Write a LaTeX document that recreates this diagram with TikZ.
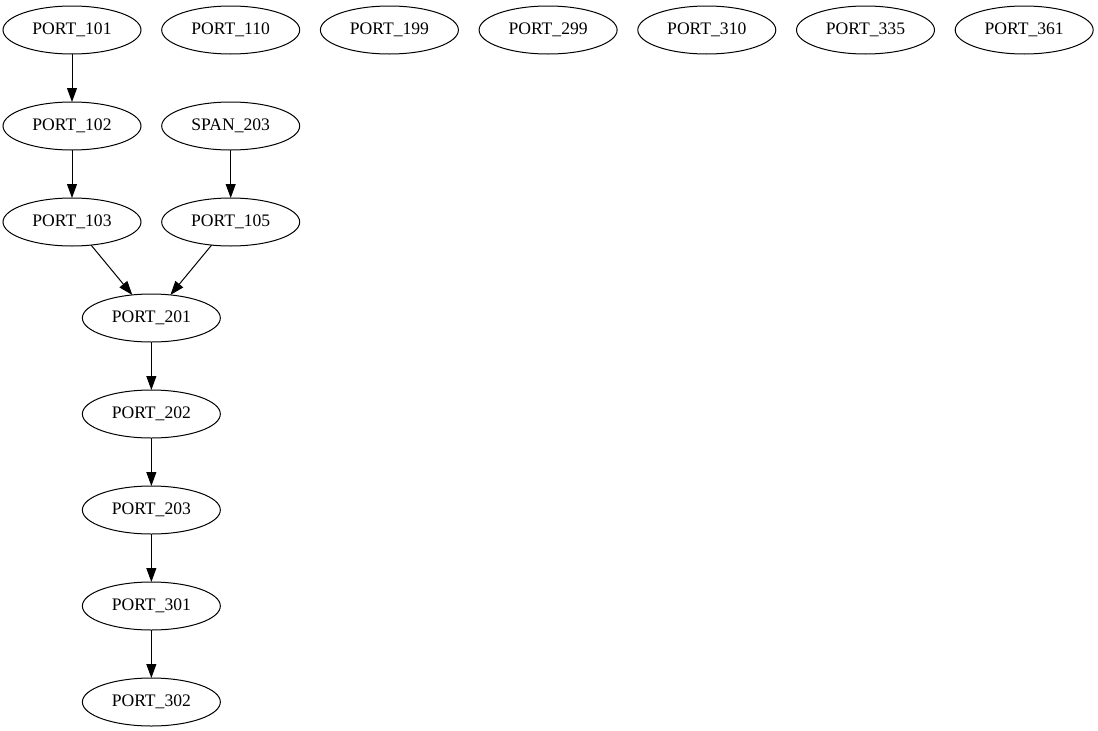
\documentclass[tikz,border=0pt]{standalone}
\usepackage{fontspec}
\setmainfont{Liberation Serif}
\usepackage{tikz}
\usetikzlibrary{shapes,arrows.meta,positioning,calc}

\begin{document}
\begin{tikzpicture}[
    x=1pt, y=1pt,
    node distance=48pt and 20.7pt,
    port/.style={draw, ellipse, line width=1pt, minimum width=138pt, minimum height=48pt, inner sep=0pt, outer sep=0pt, font=\fontsize{17.6}{20}\selectfont},
    arrow/.style={-{Triangle[length=14pt,width=10pt]}, line width=1pt}
]
    \useasboundingbox (0,0) rectangle (1098,-731);

    % Top row
    \node[port] (p101) at (72,-30) {PORT\_101};
    \node[port, right=of p101] (p110) {PORT\_110};
    \node[port, right=of p110] (p199) {PORT\_199};
    \node[port, right=of p199] (p299) {PORT\_299};
    \node[port, right=of p299] (p310) {PORT\_310};
    \node[port, right=of p310] (p335) {PORT\_335};
    \node[port, right=of p335] (p361) {PORT\_361};

    % Left branch
    \node[port, below=of p101] (p102) {PORT\_102};
    \node[port, below=of p102] (p103) {PORT\_103};

    % Right branch
    \node[port, below=of p110] (s203) {SPAN\_203};
    \node[port, below=of s203] (p105) {PORT\_105};

    % Chain
    \coordinate (mid) at ($(p103.south)!0.5!(p105.south)$);
    \node[port, below=of mid] (p201) {PORT\_201};
    \node[port, below=of p201] (p202) {PORT\_202};
    \node[port, below=of p202] (p203) {PORT\_203};
    \node[port, below=of p203] (p301) {PORT\_301};
    \node[port, below=of p301] (p302) {PORT\_302};

    % Arrows
    \draw[arrow] (p101) -- (p102);
    \draw[arrow] (p102) -- (p103);
    \draw[arrow] (s203) -- (p105);
    \draw[arrow] (p103) -- (p201);
    \draw[arrow] (p105) -- (p201);
    \draw[arrow] (p201) -- (p202);
    \draw[arrow] (p202) -- (p203);
    \draw[arrow] (p203) -- (p301);
    \draw[arrow] (p301) -- (p302);

\end{tikzpicture}
\end{document}
